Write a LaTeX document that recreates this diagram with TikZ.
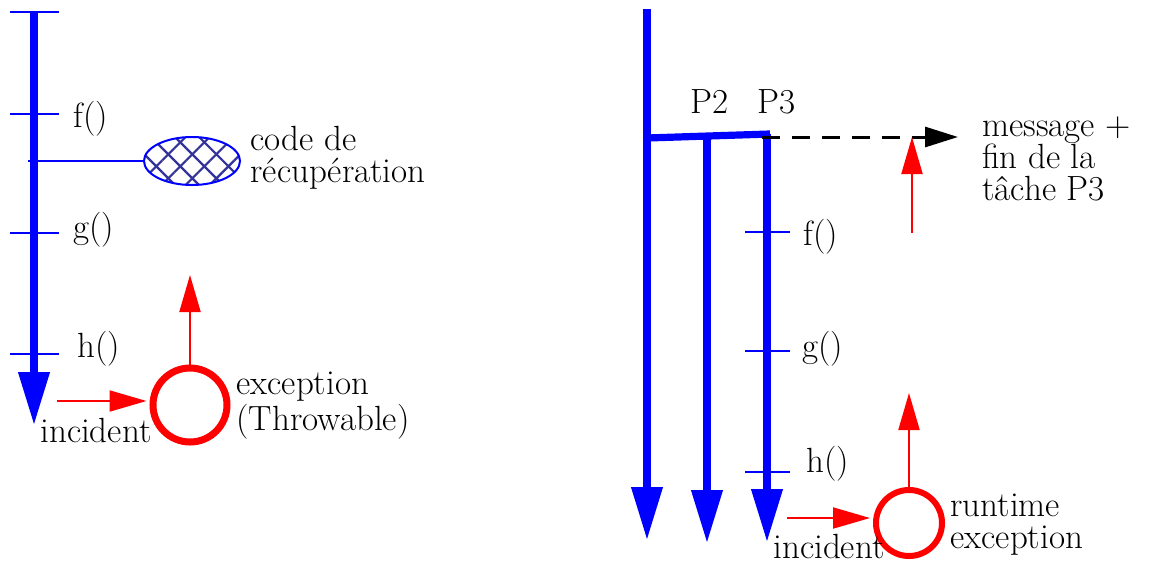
\documentclass[tikz,border=0pt]{standalone}
\usepackage{fontspec}
\usetikzlibrary{arrows.meta,shapes.geometric,patterns.meta}
\definecolor{hatchblue}{RGB}{51,51,153}
\tikzset{
  thread/.style={blue, line width=3.6pt, -{Triangle[length=26.5pt,width=15pt]}},
  tick/.style={blue, line width=0.9pt},
  signal/.style={red, line width=1pt, -{Triangle[length=18.5pt,width=10.5pt]}},
  excep/.style={circle, draw=red, inner sep=0pt},
  lbl/.style={inner sep=0pt, anchor=base west, align=left,
    font=\fontsize{17.5}{16}\selectfont},
}
\begin{document}
\begin{tikzpicture}[x=0.5pt,y=-0.5pt]
\useasboundingbox (0,0) rectangle (1173,563);
% --- gauche : un seul fil
\coordinate (t0) at (34,12);
\coordinate (t1) at (34,425);
\draw[thread] (t0) -- (t1);
\draw[tick] (10,12) -- (59,12);
\foreach \y/\by/\lx/\n in {114/127/73/f, 233/238/73/g, 354/357/77/h} {
  \draw[tick] (10,\y) -- (59,\y);
  \node[lbl] (l\n) at (\lx,\by) {\n()};
}
\node[ellipse, draw=blue, line width=1pt, inner sep=0pt,
  minimum width=48pt, minimum height=24pt,
  pattern={Hatch[angle=45,distance=8.5pt,line width=1.1pt]}, pattern color=hatchblue]
  (rec) at (192,161) {};
\coordinate (br) at (28,161);
\draw[blue, line width=1pt] (br) -- (rec.west);
\node[lbl] (lrec) at (250,182) {code de\\récupération};
\node[excep, line width=3.5pt, minimum size=37pt] (exc) at (190,405) {};
\coordinate (up) at (190,275);
\draw[signal] (exc.north) -- (up);
\coordinate (inc) at (57,401);
\draw[signal, shorten >=1.5pt] (inc) -- (inc -| exc.west);
\node[lbl] (linc) at (40,442) {incident};
\node[lbl] (lexc) at (236,430) {exception\\(Throwable)};
% --- droite : trois fils
\coordinate (p1a) at (647,9);
\coordinate (p1b) at (647,540);
\coordinate (jl) at (647,138);
\coordinate (jr) at (770,134);
\coordinate (p2a) at (707,136);
\coordinate (p2b) at (707,543);
\coordinate (p3a) at (767,134);
\coordinate (p3b) at (767,542);
\draw[thread] (p1a) -- (p1b);
\draw[blue, line width=3.6pt] (jl) -- (jr);
\draw[thread] (p2a) -- (p2b);
\draw[thread] (p3a) -- (p3b);
\node[lbl] (lp2) at (690,113) {P2};
\node[lbl] (lp3) at (757,113) {P3};
\foreach \y/\by/\lx/\n in {232/245/803/f, 351/357/802/g, 472/472/806/h} {
  \draw[tick] (745,\y) -- (790,\y);
  \node[lbl] (r\n) at (\lx,\by) {\n()};
}
\coordinate (m0) at (762,137);
\coordinate (m1) at (958,137);
\draw[line width=1.5pt, dash pattern=on 9pt off 6pt,
  -{Triangle[length=16.5pt,width=10pt]}] (m0) -- (m1);
\node[lbl] (lmsg) at (982,200) {message +\\fin de la\\tâche P3};
\coordinate (s0) at (912,233);
\coordinate (s1) at (912,137);
\draw[signal] (s0) -- (s1);
\node[excep, line width=3pt, minimum size=33pt] (exc2) at (909,523) {};
\coordinate (up2) at (909,393);
\draw[signal] (exc2.north) -- (up2);
\coordinate (inc2) at (787,518);
\draw[signal, shorten >=1.5pt] (inc2) -- (inc2 -| exc2.west);
\node[lbl] (linc2) at (773,558) {incident};
\node[lbl] (lexc2) at (950,548) {runtime\\exception};
\end{tikzpicture}
\end{document}
